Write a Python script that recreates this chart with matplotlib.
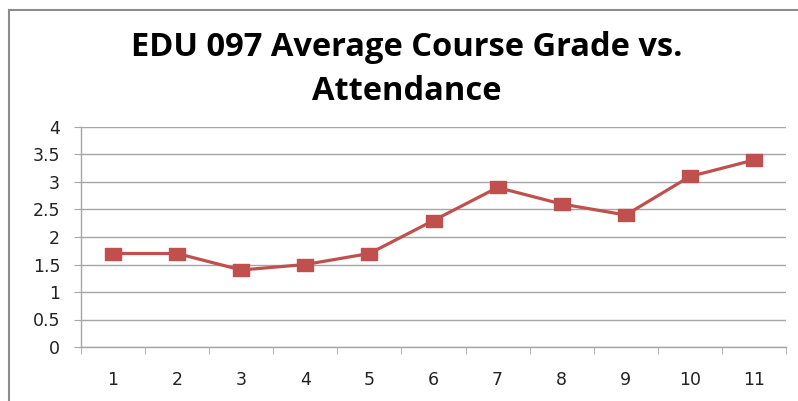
import matplotlib
matplotlib.use('Agg')
import matplotlib.pyplot as plt
from matplotlib.patches import Rectangle
from matplotlib.path import Path
import numpy as np

# attendance (sessions) vs average grade
sessions = ['1', '2', '3', '4', '5', '6', '7', '8', '9', '10', '11']
avg_grade = [1.7, 1.7, 1.4, 1.5, 1.7, 2.3, 2.9, 2.6, 2.4, 3.1, 3.4]
yticks = [0, 0.5, 1, 1.5, 2, 2.5, 3, 3.5, 4]
ylabels = ['0', '0.5', '1', '1.5', '2', '2.5', '3', '3.5', '4']
title = 'EDU 097 Average Course Grade vs.\nAttendance'

red = '#C0504D'
grid_c = '#A6A6A6'

fig = plt.figure(figsize=(7.98, 4.01), dpi=100)
W, H = 798, 401

# chart frame (only left and top edges visible)
fig.patches.append(Rectangle((8.5 / W, -0.2), 2.0, 1.2 - 9.5 / H,
                             transform=fig.transFigure, fill=False,
                             edgecolor='#8C8C8C', linewidth=1.5))

ax = fig.add_axes([81 / W, 1 - 347 / H, (786 - 81) / W, (347 - 127) / H])

# wide square marker (picture is a bit stretched)
mk = Path([(-1, -0.72), (1, -0.72), (1, 0.72), (-1, 0.72), (-1, -0.72)],
          [Path.MOVETO, Path.LINETO, Path.LINETO, Path.LINETO, Path.CLOSEPOLY])

x = np.arange(len(sessions))
ax.plot(x, avg_grade, color=red, linewidth=2.3, marker=mk, markersize=11.5,
        markerfacecolor=red, markeredgecolor=red, zorder=3)

ax.set_xlim(-0.5, len(sessions) - 0.5)
ax.set_ylim(0, 4)
ax.set_yticks(yticks)
ax.set_yticklabels(ylabels)
ax.set_xticks(x)
ax.set_xticklabels(sessions)
ax.set_xticks(np.arange(len(sessions) + 1) - 0.5, minor=True)

for s in ['top', 'right']:
    ax.spines[s].set_visible(False)
ax.spines['left'].set_color(grid_c)
ax.spines['bottom'].set_color(grid_c)
ax.spines['left'].set_linewidth(1.0)
ax.spines['bottom'].set_linewidth(1.0)

ax.yaxis.grid(True, color=grid_c, linewidth=1.0)
ax.set_axisbelow(True)

ax.tick_params(axis='x', which='major', length=0, pad=17, labelsize=12.5,
               labelcolor='#222222')
ax.tick_params(axis='x', which='minor', length=5, color=grid_c, direction='out')
ax.tick_params(axis='y', length=5, color=grid_c, pad=10, labelsize=12.5,
               labelcolor='#222222')

fig.text(407 / W, 1 - 31 / H, title, ha='center', va='top', fontsize=23.5,
         fontweight='bold', family='Open Sans', linespacing=1.45,
         color='black')

fig.savefig('out.png', dpi=100, facecolor='white')
